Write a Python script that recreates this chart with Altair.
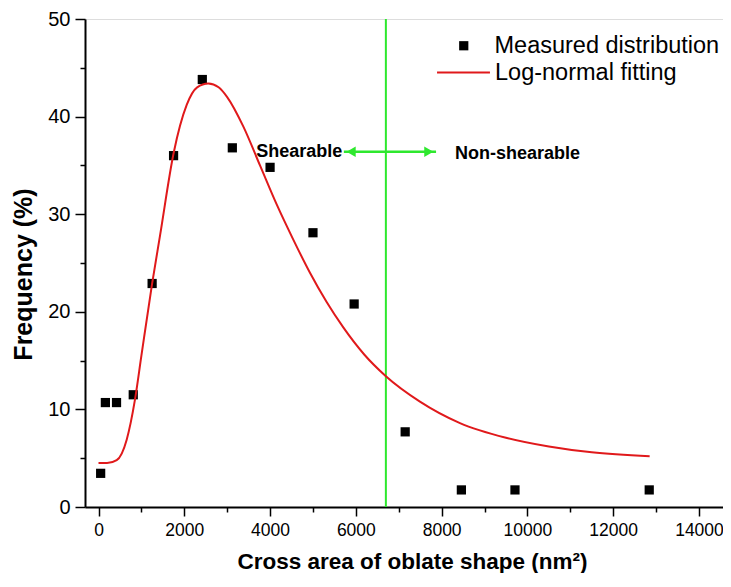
import altair as alt
import pandas as pd

# Measured distribution (squares)
meas_x = [50, 160, 420, 810, 1250, 1750, 2420, 3120, 4000, 5000, 5960, 7150, 8460, 9710, 12840]
meas_y = [3.45, 10.7, 10.7, 11.5, 22.9, 36.0, 43.8, 36.8, 34.8, 28.1, 20.8, 7.7, 1.75, 1.75, 1.75]

# Log-normal fitting curve
fit_x = [0, 200, 424, 657, 850, 1000, 1247, 1434, 1753, 2056, 2300, 2560, 2800, 3000,
         3375, 3765, 4154, 4541, 4930, 5319, 5707, 6200, 6700, 7494, 8427, 9500,
         10500, 11500, 12850]
fit_y = [4.5, 4.5, 4.8, 6.9, 11.0, 15.5, 22.8, 27.8, 36.3, 41.2, 43.0, 43.4, 43.0, 42.0,
         39.0, 35.0, 31.0, 27.4, 24.0, 21.0, 18.4, 15.6, 13.4, 10.8, 8.6, 7.1,
         6.2, 5.6, 5.2]

x_major = [0, 2000, 4000, 6000, 8000, 10000, 12000, 14000]
x_minor = [1000, 3000, 5000, 7000, 9000, 11000, 13000]
y_major = [0, 10, 20, 30, 40, 50]
y_minor = [5, 15, 25, 35, 45]

divider_x = [6700]
arrow_y = 36.4
arrow_left, arrow_right = 5720, 7870
label_left = ["Shearable"]
label_left_x = [4680]
label_right = ["Non-shearable"]
label_right_x = [8310]

series_meas = "Measured distribution"
series_fit = "Log-normal fitting"

FONT = "Liberation Sans"
GREEN = "#2ee82e"
RED = "#e0191b"

xscale = alt.Scale(domain=[-315, 14560], nice=False, zero=False)
yscale = alt.Scale(domain=[0, 50], nice=False)

meas_df = pd.DataFrame({"x": meas_x, "y": meas_y, "s": series_meas})
fit_df = pd.DataFrame({"x": fit_x, "y": fit_y, "s": series_fit})

xaxis = alt.Axis(values=x_major, title="Cross area of oblate shape (nm²)", grid=False, orient="bottom",
                 tickSize=9, tickWidth=1.5, domainWidth=2, domainColor="black", tickColor="black",
                 labelFontSize=17.5, labelFont=FONT, labelColor="black", labelPadding=5,
                 titleFont=FONT, titleFontSize=22.5, titleFontWeight="bold", titleColor="black",
                 titlePadding=12, titleX=327, format="d")
yaxis = alt.Axis(values=y_major, title="Frequency (%)", grid=False, orient="left",
                 tickSize=10, tickWidth=1.5, domainWidth=2, domainColor="black", tickColor="black",
                 labelFontSize=20, labelFont=FONT, labelColor="black", labelPadding=5,
                 titleFont=FONT, titleFontSize=25, titleFontWeight="bold", titleColor="black",
                 titlePadding=11, titleY=255)

points = alt.Chart(meas_df).mark_point(filled=True, size=85, opacity=1).encode(
    x=alt.X("x:Q", scale=xscale, axis=xaxis),
    y=alt.Y("y:Q", scale=yscale, axis=yaxis),
    shape=alt.Shape("s:N", scale=alt.Scale(domain=[series_meas], range=["square"]),
                    legend=alt.Legend(title=None, orient="none", legendX=367, legendY=15,
                                      symbolFillColor="black", symbolStrokeColor="black",
                                      symbolSize=85, labelFontSize=23.5, labelFont=FONT,
                                      labelColor="black", labelOffset=19, padding=0,
                                      labelLimit=400)),
    color=alt.value("black"),
)

line = alt.Chart(fit_df).mark_line(strokeWidth=2, interpolate="monotone").encode(
    x=alt.X("x:Q", scale=xscale, axis=None),
    y=alt.Y("y:Q", scale=yscale, axis=None),
    color=alt.Color("s:N", scale=alt.Scale(domain=[series_fit], range=[RED]),
                    legend=alt.Legend(title=None, orient="none", legendX=351, legendY=26,
                                      symbolType="stroke", symbolSize=2800, symbolStrokeWidth=2,
                                      labelFontSize=23.5, labelFont=FONT, labelColor="black",
                                      labelOffset=4, padding=0, labelLimit=400)),
)

minor_x = alt.Chart(pd.DataFrame({"x": x_minor})).mark_tick(opacity=0).encode(
    x=alt.X("x:Q", scale=xscale,
            axis=alt.Axis(values=x_minor, labels=False, title=None, grid=False, domain=False,
                          orient="bottom", tickSize=5, tickWidth=1.5, tickColor="black")),
)
minor_y = alt.Chart(pd.DataFrame({"y": y_minor})).mark_tick(opacity=0).encode(
    y=alt.Y("y:Q", scale=yscale,
            axis=alt.Axis(values=y_minor, labels=False, title=None, grid=False, domain=False,
                          orient="left", tickSize=5, tickWidth=1.5, tickColor="black")),
)

divider = alt.Chart(pd.DataFrame({"x": divider_x})).mark_rule(color=GREEN, strokeWidth=2).encode(
    x=alt.X("x:Q", scale=xscale, axis=None)
)

arrow_df = pd.DataFrame({"x": [arrow_left], "x2": [arrow_right], "y": [arrow_y]})
arrow_line = alt.Chart(arrow_df).mark_rule(color=GREEN, strokeWidth=2.5).encode(
    x=alt.X("x:Q", scale=xscale, axis=None), x2="x2:Q",
    y=alt.Y("y:Q", scale=yscale, axis=None)
)
heads_df = pd.DataFrame({"x": [arrow_left + 170, arrow_right - 170],
                         "y": [arrow_y, arrow_y],
                         "shp": ["triangle-left", "triangle-right"]})
arrow_heads = alt.Chart(heads_df).mark_point(filled=True, size=110, color=GREEN, opacity=1).encode(
    x=alt.X("x:Q", scale=xscale, axis=None), y=alt.Y("y:Q", scale=yscale, axis=None),
    shape=alt.Shape("shp:N", scale=None, legend=None)
)

txt_left = alt.Chart(pd.DataFrame({"x": label_left_x, "y": [arrow_y], "t": label_left})).mark_text(
    font=FONT, fontSize=18, fontWeight="bold", color="black", align="center", baseline="middle"
).encode(x=alt.X("x:Q", scale=xscale, axis=None), y=alt.Y("y:Q", scale=yscale, axis=None), text="t:N")
txt_right = alt.Chart(pd.DataFrame({"x": label_right_x, "y": [arrow_y - 0.2], "t": label_right})).mark_text(
    font=FONT, fontSize=18, fontWeight="bold", color="black", align="left", baseline="middle"
).encode(x=alt.X("x:Q", scale=xscale, axis=None), y=alt.Y("y:Q", scale=yscale, axis=None), text="t:N")

chart = alt.layer(
    points, minor_x, minor_y, divider, line, arrow_line, arrow_heads, txt_left, txt_right
).resolve_axis(x="independent", y="independent").resolve_legend(
    shape="independent", color="independent"
).properties(
    width=638, height=488,
    autosize=alt.AutoSizeParams(type="none"),
    padding={"left": 77, "top": 11, "right": 0, "bottom": 66},
).configure_view(stroke="black", strokeWidth=2).configure(background="white")

chart.save("out.html", embed_options={"renderer": "svg", "actions": False})
